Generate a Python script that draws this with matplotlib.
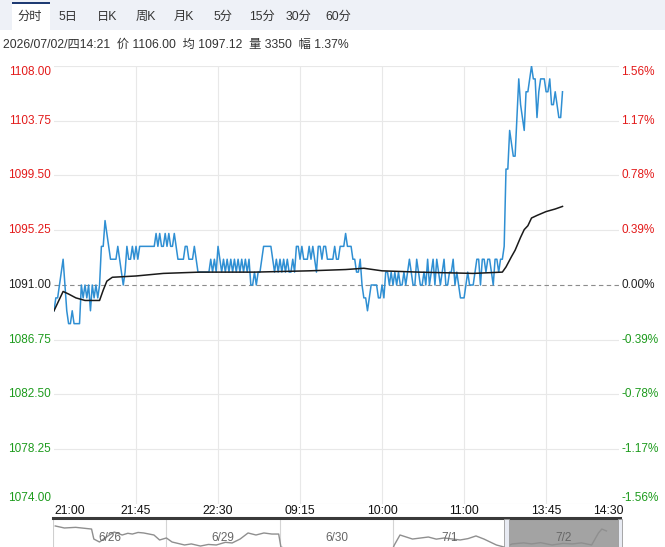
import numpy as np
import matplotlib
matplotlib.use("Agg")
import matplotlib.pyplot as plt
from matplotlib.patches import Rectangle
from matplotlib.transforms import blended_transform_factory

plt.rcParams['font.family'] = ['Liberation Sans', 'Noto Sans CJK SC', 'DejaVu Sans']

# --- data ---
tabs = ['分时', '5日', '日K', '周K', '月K', '5分', '15分', '30分', '60分']
info = '2026/07/02/四14:21  价 1106.00  均 1097.12  量 3350  幅 1.37%'

prev_close = 1091.0
price_ticks = [1074.00, 1078.25, 1082.50, 1086.75, 1091.00, 1095.25, 1099.50, 1103.75, 1108.00]
pct_labels = ['-1.56%', '-1.17%', '-0.78%', '-0.39%', '0.00%', '0.39%', '0.78%', '1.17%', '1.56%']

time_labels = ['21:00', '21:45', '22:30', '09:15', '10:00', '11:00', '13:45', '14:30']
time_pos = [0, 45, 90, 135, 180, 225, 270, 315]
x_end = 310

# one price per minute
price = [
    1089, 1090, 1090, 1091, 1092, 1093, 1091, 1089, 1088, 1088,
    1089, 1088, 1088, 1088, 1088, 1091, 1090, 1091, 1090, 1091,
    1089, 1091, 1090, 1091, 1090, 1091, 1094, 1094, 1096, 1095,
    1094, 1093, 1093, 1093, 1093, 1094, 1093, 1092, 1091, 1092,
    1094, 1093, 1093, 1094, 1093, 1094, 1093, 1094, 1094, 1094,
    1094, 1094, 1094, 1094, 1094, 1094, 1095, 1094, 1095, 1094,
    1094, 1095, 1094, 1095, 1094, 1094, 1095, 1094, 1093, 1093,
    1093, 1093, 1094, 1094, 1093, 1093, 1093, 1094, 1093, 1092,
    1092, 1092, 1092, 1092, 1092, 1092, 1093, 1092, 1093, 1092,
    1094, 1093, 1092, 1093, 1092, 1093, 1092, 1093, 1092, 1093,
    1092, 1093, 1092, 1093, 1092, 1093, 1092, 1093, 1091, 1091,
    1092, 1091, 1092, 1092, 1093, 1094, 1094, 1094, 1094, 1094,
    1093, 1092, 1093, 1092, 1093, 1092, 1093, 1092, 1093, 1092,
    1092, 1093, 1092, 1094, 1094, 1093, 1094, 1093, 1093, 1093,
    1094, 1093, 1094, 1093, 1092, 1094, 1094, 1093, 1094, 1094,
    1093, 1093, 1093, 1093, 1094, 1093, 1093, 1094, 1094, 1094,
    1095, 1094, 1094, 1094, 1093, 1093, 1092, 1092, 1093, 1091,
    1090, 1090, 1089, 1090, 1091, 1091, 1091, 1091, 1090, 1090,
    1091, 1090, 1092, 1092, 1091, 1092, 1091, 1092, 1091, 1092,
    1091, 1091, 1092, 1091, 1092, 1093, 1092, 1091, 1091, 1093,
    1092, 1091, 1091, 1092, 1091, 1093, 1091, 1092, 1093, 1091,
    1093, 1092, 1091, 1092, 1093, 1091, 1091, 1092, 1092, 1093,
    1091, 1092, 1091, 1090, 1090, 1090, 1091, 1092, 1091, 1091,
    1091, 1092, 1093, 1093, 1091, 1093, 1093, 1092, 1093, 1093,
    1092, 1091, 1093, 1093, 1092, 1093, 1093, 1094, 1100, 1100,
    1103, 1102, 1101, 1101, 1104, 1107, 1105, 1104, 1103, 1106,
    1106, 1107, 1108, 1107, 1107, 1104, 1106, 1107, 1107, 1107,
    1106, 1106, 1107, 1105, 1105, 1106, 1105, 1104, 1104, 1106,
]

avg_min = [0, 5, 8, 12, 17, 25, 27, 29, 32, 45, 60, 80, 110, 140, 160, 170, 180,
           200, 230, 246, 248, 251, 253, 256, 258, 260, 262, 265, 270, 275, 279]
avg_val = [1089.0, 1090.5, 1090.3, 1090.0, 1089.8, 1089.8, 1090.6, 1091.3, 1091.6,
           1091.7, 1091.9, 1092.0, 1092.0, 1092.1, 1092.2, 1092.3, 1092.1, 1092.0,
           1091.9, 1092.0, 1092.4, 1093.2, 1093.7, 1094.7, 1095.3, 1095.6, 1096.2,
           1096.4, 1096.7, 1096.9, 1097.1]

nav_days = ['6/26', '6/29', '6/30', '7/1', '7/2']
nav_x = [0.02, 0.10, 0.20, 0.34, 0.36, 0.41, 0.47, 0.54, 0.61, 0.66, 0.70, 0.75, 0.80, 0.89, 0.94, 1.00,
         1.05, 1.16, 1.22, 1.30, 1.37, 1.44, 1.52, 1.58, 1.65, 1.72, 1.79, 1.86, 1.93, 1.99,
         2.01, 2.14, 2.25, 2.35, 2.45, 2.57, 2.71, 2.85, 2.98,
         3.01, 3.06, 3.17, 3.31, 3.38, 3.45, 3.59, 3.66, 3.73, 3.80, 3.91, 3.98,
         4.05, 4.15, 4.22, 4.30, 4.40, 4.50, 4.58, 4.66, 4.75, 4.81, 4.84, 4.88]
nav_y = [1108.9, 1107.0, 1107.6, 1106.0, 1096.6, 1093.8, 1098.5, 1103.2, 1100.4, 1102.0, 1101.3, 1102.8, 1102.3, 1100.4, 1095.7, 1097.6,
         1093.8, 1091.0, 1092.0, 1090.0, 1091.5, 1091.0, 1093.5, 1092.9, 1096.6, 1102.3, 1100.4, 1102.3, 1101.3, 1101.3,
         1089.0, 1085.4, 1086.5, 1084.5, 1086.0, 1085.0, 1085.4, 1084.0, 1083.5,
         1091.0, 1100.4, 1096.6, 1098.5, 1096.5, 1097.6, 1095.7, 1097.0, 1099.5, 1096.6, 1091.0, 1089.0,
         1092.0, 1093.0, 1092.0, 1093.2, 1091.0, 1092.5, 1092.0, 1093.0, 1091.0, 1102.3, 1106.0, 1104.2]

W, H = 665, 547
fig = plt.figure(figsize=(W / 100, H / 100), dpi=100)

def fx(px):
    return px / W

def fy(py):
    return 1 - py / H

# --- tab bar ---
fig.patches.append(Rectangle((0, fy(30)), 1, 30 / H, transform=fig.transFigure,
                             facecolor='#eef1f7', edgecolor='none', zorder=0))
fig.patches.append(Rectangle((fx(12), fy(31)), 38 / W, 28 / H, transform=fig.transFigure,
                             facecolor='white', edgecolor='none', zorder=1))
fig.patches.append(Rectangle((fx(12), fy(4)), 38 / W, 2 / H, transform=fig.transFigure,
                             facecolor='#1f3b73', edgecolor='none', zorder=2))
tab_x = [30, 68, 107, 146, 184, 223, 262, 299, 338]
for t, x in zip(tabs, tab_x):
    fig.text(fx(x), fy(17), t, ha='center', va='center', fontsize=8.8, color='#333333')
fig.text(fx(3), fy(45), info, ha='left', va='center', fontsize=8.8, color='#333333')

# --- main chart ---
left, right, top, bottom = 54, 619, 66, 504
ax = fig.add_axes([fx(left), fy(bottom), (right - left) / W, (bottom - top) / H])
ax.set_xlim(0, x_end)
ax.set_ylim(price_ticks[0], price_ticks[-1])
for s in ax.spines.values():
    s.set_visible(False)
ax.set_xticks([])
ax.set_yticks([])

for p in price_ticks:
    if p == prev_close:
        ax.axhline(p, color='#8c8c8c', lw=0.8, ls=(0, (4, 3)), zorder=1)
    else:
        ax.axhline(p, color='#e8e8e8', lw=0.8, zorder=0)
for t in time_pos[1:-1]:
    ax.axvline(t, color='#e8e8e8', lw=0.8, zorder=0)

ax.plot(np.arange(len(price)), price, color='#2f8fd3', lw=1.1, zorder=3)
ax.plot(avg_min, avg_val, color='#1a1a1a', lw=1.1, zorder=4)

ytrans = blended_transform_factory(fig.transFigure, ax.transData)
for i, (p, lab) in enumerate(zip(price_ticks, pct_labels)):
    if p > prev_close:
        c = '#e31a1a'
    elif p < prev_close:
        c = '#1d9b1d'
    else:
        c = '#222222'
    va = 'center'
    if i == 0:
        va = 'bottom'
    elif i == len(price_ticks) - 1:
        va = 'top'
    fig.text(fx(51), p, f'{p:.2f}', transform=ytrans, ha='right', va=va,
             fontsize=8.5, color=c)
    fig.text(fx(621), p, lab, transform=ytrans, ha='left', va=va,
             fontsize=8.5, color=c)

xtrans = blended_transform_factory(ax.transData, fig.transFigure)
for i, (lab, t) in enumerate(zip(time_labels, time_pos)):
    if i == 0:
        fig.text(t, fy(511), lab, transform=xtrans, ha='left', va='center',
                 fontsize=8.8, color='#111111')
    elif i == len(time_labels) - 1:
        fig.text(fx(624), fy(511), lab, ha='right', va='center', fontsize=8.8, color='#111111')
    else:
        fig.text(t, fy(511), lab, transform=xtrans, ha='center', va='center',
                 fontsize=8.8, color='#111111')

# --- navigator ---
nav = fig.add_axes([fx(53), 0, (620 - 53) / W, 29 / H])
nav.set_xlim(0, 5)
nav.set_ylim(1089.1, 1116.4)
nav.set_xticks([])
nav.set_yticks([])
for s in nav.spines.values():
    s.set_visible(False)
nav.spines['top'].set_visible(True)
nav.spines['top'].set_linewidth(2.2)
nav.spines['top'].set_color('#3a3a3a')
nav.axvline(0, color='#cfcfcf', lw=0.8)
for d in range(1, 5):
    nav.axvline(d, color='#d4d4d4', lw=0.8)
nav.axvspan(4, 5, color='#a3a3a3', zorder=1)
nav.plot(nav_x, nav_y, color='#8f8f8f', lw=1.0, zorder=2)
for i, d in enumerate(nav_days):
    nav.text(i + 0.5, 1097.5, d, ha='center', va='center', fontsize=8.5,
             color='#666666', zorder=3)
for hx in (4, 5):
    nav.add_patch(Rectangle((hx - 0.02, 1089.1), 0.04, 26, facecolor='#e8ebf3',
                            edgecolor='#9a9a9a', lw=0.6, zorder=4, clip_on=False))

fig.savefig('out.png', dpi=100)
